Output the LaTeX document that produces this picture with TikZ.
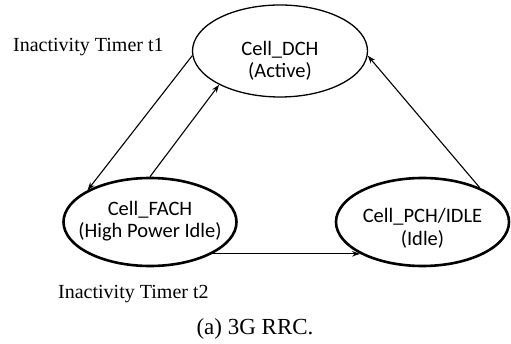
\documentclass[tikz,border=0pt]{standalone}
\usepackage{fontspec}
\setmainfont{Liberation Serif}
\newfontfamily\calfont{Carlito}
\usetikzlibrary{shapes.geometric,arrows.meta}
\tikzset{
  statethin/.style={draw, ellipse, line width=1.3pt, minimum width=175pt, minimum height=92pt, inner sep=0pt},
  statethick/.style={draw, ellipse, line width=2.6pt, minimum width=173pt, minimum height=88pt, inner sep=0pt},
  statetext/.style={align=center, font=\calfont\fontsize{20.5}{22.5}\selectfont, inner sep=0pt},
  timer/.style={font=\fontsize{20}{24}\selectfont, inner sep=0pt, anchor=base west},
  conn/.style={line width=1.1pt, -{Stealth[length=8pt,width=5.5pt]}}
}
\begin{document}
\begin{tikzpicture}[x=1pt,y=1pt]
\useasboundingbox (0,0) rectangle (511,343);
\node[statethin] (dch) at (280,292) {};
\node[statethick] (fach) at (150,121) {};
\node[statethick] (pch) at (422.5,121) {};
\node[statetext] (dcht) at (280,282) {Cell\_DCH\\(Active)};
\node[statetext] (facht) at (150,122) {Cell\_FACH\\(High Power Idle)};
\node[statetext] (pcht) at (422.5,114.5) {Cell\_PCH/IDLE\\(Idle)};
\node[timer] (t1) at (13,291) {Inactivity Timer t1};
\node[timer] (t2) at (58,45) {Inactivity Timer t2};
\node[font=\fontsize{23}{26}\selectfont, inner sep=0pt, anchor=base] (cap) at (255,9) {(a)\ 3G RRC.};
\draw[conn] (dch.183) -- (fach.153);
\draw[conn] (fach.90) -- (dch.209);
\draw[conn] (pch.31) -- (dch.357);
\draw[conn] (fach.-27) -- (pch.207);
\end{tikzpicture}
\end{document}
